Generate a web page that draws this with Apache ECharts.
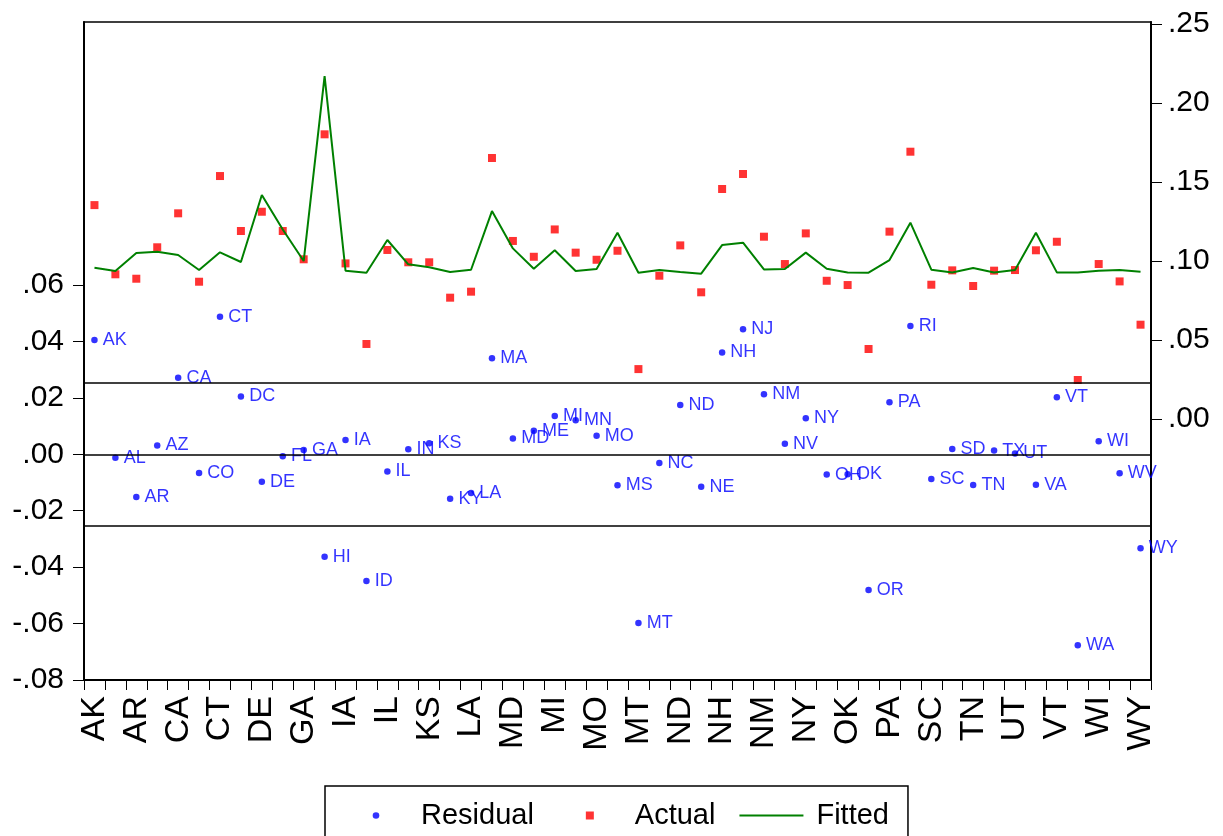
<!DOCTYPE html>
<html>
<head>
<meta charset="utf-8">
<script src="https://cdn.jsdelivr.net/npm/echarts@6/dist/echarts.min.js"></script>
<style>
  html, body { margin: 0; padding: 0; background: #ffffff; }
  #chart { width: 1223px; height: 836px; }
</style>
</head>
<body>
<div id="chart"></div>
<script>
// Observations (states, alphabetical)
const states = ['AK','AL','AR','AZ','CA','CO','CT','DC','DE','FL','GA','HI','IA','ID','IL','IN','KS','KY','LA','MA',
  'MD','ME','MI','MN','MO','MS','MT','NC','ND','NE','NH','NJ','NM','NV','NY','OH','OK','OR','PA','RI',
  'SC','SD','TN','TX','UT','VA','VT','WA','WI','WV','WY'];

// Residuals (left axis)
const residual = [0.0405,-0.0012,-0.0151,0.0031,0.0271,-0.0066,0.0487,0.0205,-0.0097,-0.0007,0.0015,-0.0363,0.0051,-0.0449,-0.0061,0.0018,0.0039,-0.0158,-0.0137,0.0340,
  0.0056,0.0083,0.0136,0.0121,0.0066,-0.0110,-0.0598,-0.0031,0.0175,-0.0115,0.0361,0.0443,0.0213,0.0037,0.0128,-0.0072,-0.0071,-0.0481,0.0184,0.0455,
  -0.0088,0.0019,-0.0109,0.0013,0.0003,-0.0108,0.0202,-0.0677,0.0046,-0.0067,-0.0333];

// Actual values (right axis)
const actual = [0.1354,0.0916,0.0888,0.1087,0.1302,0.0869,0.1538,0.1190,0.1312,0.1190,0.1011,0.1802,0.0985,0.0475,0.1070,0.0992,0.0992,0.0768,0.0806,0.1652,
  0.1127,0.1027,0.1200,0.1053,0.1008,0.1065,0.0316,0.0907,0.1099,0.0802,0.1456,0.1551,0.1154,0.0981,0.1175,0.0875,0.0848,0.0443,0.1186,0.1692,
  0.0850,0.0941,0.0842,0.0939,0.0943,0.1068,0.1122,0.0247,0.0981,0.0871,0.0597];

// Fitted values (right axis)
const fitted = [0.0958,0.0937,0.1051,0.1059,0.1038,0.0943,0.1055,0.0994,0.1418,0.1200,0.1000,0.2171,0.0939,0.0926,0.1133,0.0979,0.0960,0.0930,0.0945,0.1316,
  0.1080,0.0951,0.1068,0.0937,0.0949,0.1179,0.0926,0.0943,0.0930,0.0920,0.1101,0.1116,0.0947,0.0949,0.1053,0.0951,0.0928,0.0926,0.1006,0.1243,
  0.0945,0.0928,0.0956,0.0928,0.0943,0.1179,0.0928,0.0928,0.0939,0.0943,0.0932];

// Tick labels shown on each value axis
const leftTicks = [-0.08, -0.06, -0.04, -0.02, 0, 0.02, 0.04, 0.06];
const rightTicks = [0, 0.05, 0.10, 0.15, 0.20, 0.25];

// One standard error band around zero for the residuals
const residualBand = 0.0252;

const FONT = '"Liberation Sans", Arial, Helvetica, sans-serif';

function tickText(v) {
  const s = (Math.round(v * 100) / 100).toFixed(2);
  return s.replace(/^(-?)0\./, '$1.');
}

const chart = echarts.init(document.getElementById('chart'), null, { renderer: 'canvas' });

chart.setOption({
  animation: false,
  backgroundColor: '#ffffff',
  textStyle: { fontFamily: FONT },
  grid: {
    left: 84, right: 72, top: 22, bottom: 156,
    show: true, borderColor: '#000000', borderWidth: 1.5, backgroundColor: 'transparent'
  },
  legend: {
    left: 325, top: 786,
    orient: 'horizontal',
    itemWidth: 64, itemHeight: 20, itemGap: 24,
    padding: [15, 19, 20, 19],
    borderColor: '#000000', borderWidth: 1.5, backgroundColor: '#ffffff',
    textStyle: { fontFamily: FONT, fontSize: 29, color: '#000000', padding: [0, 0, 0, 8] },
    data: [
      { name: 'Residual', icon: 'path://M0,0M64,20M28.7,10a3.3,3.3 0 1,0 6.6,0a3.3,3.3 0 1,0 -6.6,0Z' },
      { name: 'Actual', icon: 'path://M0,0M64,20M28,6h8v8h-8Z' },
      { name: 'Fitted', icon: 'path://M0,0M64,20M0,9h64v2h-64Z' }
    ]
  },
  xAxis: {
    type: 'category',
    data: states,
    boundaryGap: true,
    axisLine: { show: true, onZero: false, lineStyle: { color: '#000000', width: 2 } },
    axisTick: { show: true, interval: 0, length: 10, lineStyle: { color: '#000000', width: 1 } },
    axisLabel: {
      interval: 1, rotate: 90, margin: 16,
      fontFamily: FONT, fontSize: 34, color: '#000000'
    },
    splitLine: { show: false }
  },
  yAxis: [
    {
      type: 'value', position: 'left',
      min: -0.08, max: 0.1532, interval: 0.02,
      axisLine: { show: true, lineStyle: { color: '#000000', width: 2 } },
      axisTick: { show: true, length: 11, customValues: leftTicks, lineStyle: { color: '#000000', width: 1 } },
      axisLabel: {
        customValues: leftTicks, margin: 20,
        fontFamily: FONT, fontSize: 30, color: '#000000',
        formatter: tickText
      },
      splitLine: { show: false }
    },
    {
      type: 'value', position: 'right',
      min: -0.1652, max: 0.2513, interval: 0.05,
      axisLine: { show: true, lineStyle: { color: '#000000', width: 2 } },
      axisTick: { show: true, length: 11, customValues: rightTicks, lineStyle: { color: '#000000', width: 1 } },
      axisLabel: {
        customValues: rightTicks, margin: 17,
        fontFamily: FONT, fontSize: 30, color: '#000000',
        formatter: tickText
      },
      splitLine: { show: false }
    }
  ],
  series: [
    {
      name: 'Fitted',
      type: 'line',
      yAxisIndex: 1,
      data: fitted,
      symbol: 'none',
      lineStyle: { color: '#008000', width: 2 },
      itemStyle: { color: '#008000' },
      z: 3
    },
    {
      name: 'Actual',
      type: 'scatter',
      yAxisIndex: 1,
      data: actual,
      symbol: 'rect',
      symbolSize: 8,
      itemStyle: { color: '#ff0000' },
      z: 2
    },
    {
      name: 'Residual',
      type: 'scatter',
      yAxisIndex: 0,
      data: residual,
      symbol: 'circle',
      symbolSize: 6.5,
      itemStyle: { color: '#0000ff' },
      label: {
        show: true, position: 'right', distance: 5,
        formatter: '{b}',
        fontFamily: FONT, fontSize: 18, color: '#0000ff'
      },
      markLine: {
        silent: true,
        precision: 4,
        symbol: ['none', 'none'],
        label: { show: false },
        lineStyle: { color: '#000000', width: 1.5, type: 'solid' },
        data: [{ yAxis: 0 }, { yAxis: residualBand }, { yAxis: -residualBand }]
      },
      z: 4
    }
  ]
});
</script>
</body>
</html>
